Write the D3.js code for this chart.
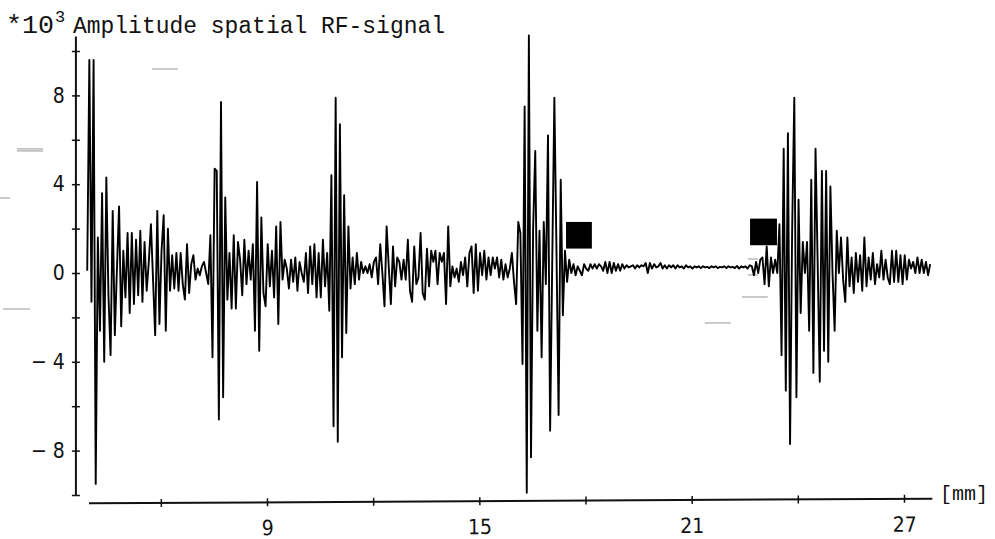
<!DOCTYPE html>
<html>
<head>
<meta charset="utf-8">
<script src="https://cdn.jsdelivr.net/npm/d3@7"></script>
<style>
    html, body { margin: 0; padding: 0; background: #fff; }
    svg { display: block; }
    .tick text {
        font-family: "Liberation Sans Narrow", "DejaVu Sans Condensed", "Liberation Sans", sans-serif;
        font-stretch: condensed;
        font-size: 21px;
        fill: #111;
    }
    .mono { font-family: "Liberation Mono", "DejaVu Sans Mono", monospace; fill: #111; }
</style>
</head>
<body>
<script>
var width = 995;
var height = 539;

// RF signal in units of 10^3, sampled every 0.06 mm from 3.92 mm
var sampleStart = 3.92;
var sampleStep = 0.06;

// 3.92 - 9.86 mm
var rfA = [
    0.1, 9.6, -1.3, 9.6, -9.5, 1.6, -2.6, 3.6, -4.0, 4.3,
    -1.0, -3.7, 2.8, -2.8, 0.2, 3.0, -2.4, 1.0, -1.1, 1.8,
    -1.8, 1.8, -1.4, 1.5, -1.0, 1.9, -1.3, 1.4, -0.8, 0.5,
    2.2, -0.3, -2.8, 2.8, -2.3, 1.0, 2.6, -2.6, 2.0, -0.8,
    0.8, -0.7, 0.9, -0.8, 0.9, -0.5, -1.2, 1.3, -0.9, 0.4,
    0.8, -0.3, 0.2, -0.1, 0.3, 0.5, 0.0, -0.5, 1.7, -3.8,
    4.7, 4.6, -6.6, 7.7, -5.6, 3.4, -1.2, 0.9, -1.6, 1.7,
    -1.6, 1.4, 0.6, -1.0, 1.5, -0.5, 1.0, -0.3, 1.3, -2.6,
    4.1, -3.5, 2.5, -0.9, -1.5, 1.3, -0.6, 1.0, -1.1, 2.1,
    -2.3, 2.3, -0.3, 0.6, 0.2, -0.7, 0.6, -0.4, 0.7, -0.8
];
// 9.92 - 15.86 mm
var rfB = [
    0.5, 0.0, -0.4, 0.9, -0.9, 1.2, -0.5, 1.3, -1.1, 0.9,
    -1.1, 1.5, -0.6, 0.9, -1.7, 4.4, -6.9, 7.9, -7.6, 6.7,
    -3.8, 3.5, -2.7, 2.1, -0.7, 0.7, -0.5, 0.9, -0.3, 0.5,
    0.0, 0.3, 0.0, 0.4, -0.2, 0.5, 0.7, -0.5, 1.3, 0.0,
    -1.5, 2.1, 0.3, -1.4, 1.2, -0.6, 0.7, 0.5, -0.3, 0.6,
    -0.3, 1.5, -0.8, -1.3, 1.2, -0.5, -0.2, 1.8, -0.9, -1.2,
    1.1, -0.6, 1.0, 0.5, 1.0, -0.5, 0.9, 0.5, 0.9, -1.4,
    2.1, -0.6, 0.3, -0.2, 0.2, -0.4, 0.5, -0.1, 0.7, -0.6,
    0.9, 1.2, -0.9, 1.3, -0.8, 0.9, -0.1, 1.0, -0.3, 0.7,
    -0.1, 0.7, 0.2, 0.7, -0.2, 0.6, -0.3, 0.4, -0.2, 0.2
];
// 15.92 - 21.86 mm
var rfC = [
    0.9, -0.4, -1.4, 2.3, 1.8, -4.1, 7.5, -9.9, 10.7, -8.3,
    2.0, 5.5, -2.6, 1.9, -3.8, 2.3, -0.5, 6.2, -7.1, 0.5,
    7.9, 1.0, -6.4, 4.2, -1.9, 1.0, -0.4, 0.6, 0.0, 0.4,
    -0.1, 0.3, 0.1, -0.1, 0.4, 0.2, 0.1, 0.4, 0.2, 0.4,
    0.2, 0.4, 0.3, 0.1, 0.5, 0.0, 0.5, 0.0, 0.45, 0.1,
    0.4, 0.1, 0.4, 0.2, 0.35, 0.25, 0.3, 0.35, 0.2, 0.35,
    0.25, 0.35, 0.3, 0.45, 0.0, 0.45, 0.2, 0.4, 0.25, 0.3,
    0.45, 0.2, 0.35, 0.2, 0.35, 0.25, 0.35, 0.2, 0.35, 0.25,
    0.3, 0.2, 0.35, 0.25, 0.3, 0.2, 0.3, 0.25, 0.3, 0.22,
    0.3, 0.25, 0.28, 0.22, 0.3, 0.25, 0.3, 0.22, 0.28, 0.25
];
// 21.92 - 27.74 mm
var rfD = [
    0.3, 0.22, 0.3, 0.25, 0.28, 0.22, 0.32, 0.2, 0.3, 0.25,
    0.3, 0.2, 0.35, 0.3, -0.1, 0.5, 0.0, 0.6, 0.7, -0.5,
    1.2, -0.6, 0.7, 0.0, 0.6, 0.0, 2.2, -3.7, 5.6, -5.3,
    6.3, -7.7, 2.0, 7.9, -5.6, 3.3, -1.8, 1.4, 0.0, 1.4,
    -2.6, 4.2, -4.5, 5.6, 0.5, -4.9, 4.6, -3.5, 4.6, -4.0,
    3.9, 0.0, -2.6, 1.9, 0.0, 1.6, -0.3, -1.3, 1.6, -0.6,
    0.7, -0.9, 0.9, -0.4, 0.8, -0.8, 1.6, -0.6, 0.7, -0.3,
    0.9, -0.5, 0.4, -0.2, 1.0, -0.3, 0.6, -0.2, -0.5, 1.0,
    -0.4, 1.0, -0.4, 0.8, -0.5, 0.8, -0.3, 0.6, 0.2, 0.5,
    0.0, 0.7, 0.0, 0.6, 0.0, 0.5, -0.1, 0.4
];

// gate markers (mm, amplitude)
var gateFrom = [17.45, 22.65];
var gateTo = [18.18, 23.41];
var gateLow = [1.1, 1.25];
var gateHigh = [2.3, 2.45];

var yTicks = [-10, -8, -6, -4, -2, 0, 2, 4, 6, 8, 10];
var yLabels = [-8, -4, 0, 4, 8];
var xTicks = [6, 9, 12, 15, 18, 21, 24, 27];
var xLabels = [9, 15, 21, 27];

// faint stray strokes on the scan: [mm from, mm to, amplitude]
var scanMarks = [
    [5.75, 6.48, 9.19],
    [1.93, 2.67, 5.59],
    [1.93, 2.67, 5.50],
    [1.45, 1.74, 3.38],
    [1.54, 2.30, -1.62],
    [21.37, 22.11, -2.25],
    [22.42, 23.15, -1.08],
    [22.59, 22.87, 0.63],
    [22.59, 22.87, -0.09]
];

var signal = rfA.concat(rfB, rfC, rfD);

var x = d3.scaleLinear().domain([9, 27]).range([267, 904]);
var y = d3.scaleLinear().domain([-8, 8]).range([450.6, 95.4]);

var svg = d3.select("body")
    .append("svg")
    .attr("width", width)
    .attr("height", height)
;

// stray scan strokes
svg.append("g")
    .selectAll("line")
    .data(scanMarks)
    .enter().append("line")
    .attr("x1", d => x(d[0]))
    .attr("x2", d => x(d[1]))
    .attr("y1", d => y(d[2]))
    .attr("y2", d => y(d[2]))
    .attr("stroke", "#b4b4b4")
    .attr("stroke-width", 1.4)
;

// y axis
var yAxis = svg.append("g")
    .attr("transform", `translate(${x(3.6)}, 0)`)
    .call(d3.axisLeft(y)
        .tickValues(yTicks)
        .tickSize(0)
        .tickPadding(11)
        .tickFormat(d => yLabels.includes(d) ? (d < 0 ? "\u2212 " + (-d) : String(d)) : ""))
;
yAxis.select(".domain").remove();
yAxis.selectAll(".tick line")
    .attr("x1", -4).attr("x2", 4)
    .attr("stroke", "#111").attr("stroke-width", 1.5);
yAxis.append("line")
    .attr("y1", y(-10)).attr("y2", y(10.65))
    .attr("stroke", "#111").attr("stroke-width", 2);

// x axis (slightly skewed, as on the scan)
var xAxis = svg.append("g")
    .attr("transform", "translate(0, 501) rotate(-0.32, 510, 0)")
    .call(d3.axisBottom(x)
        .tickValues(xTicks)
        .tickSize(0)
        .tickPadding(18)
        .tickFormat(d => xLabels.includes(d) ? String(d) : ""))
;
xAxis.select(".domain").remove();
xAxis.selectAll(".tick line")
    .attr("y1", -4).attr("y2", 4)
    .attr("stroke", "#111").attr("stroke-width", 1.5);
xAxis.append("line")
    .attr("x1", x(3.97)).attr("x2", x(27.8))
    .attr("stroke", "#111").attr("stroke-width", 2);

svg.append("text")
    .attr("class", "mono")
    .attr("x", 940).attr("y", 500)
    .attr("font-size", 20)
    .text("[mm]");

// title
svg.append("text")
    .attr("class", "mono")
    .attr("x", 6).attr("y", 33)
    .attr("font-size", 25)
    .attr("textLength", 48)
    .attr("lengthAdjust", "spacingAndGlyphs")
    .text("*10");
svg.append("text")
    .attr("class", "mono")
    .attr("x", 55).attr("y", 22)
    .attr("font-size", 17)
    .text("3");
svg.append("text")
    .attr("class", "mono")
    .attr("x", 73).attr("y", 33)
    .attr("font-size", 23)
    .attr("textLength", 372)
    .attr("lengthAdjust", "spacingAndGlyphs")
    .text("Amplitude spatial RF-signal");

// signal
var rfLine = d3.line()
    .x((d, i) => x(sampleStart + i * sampleStep))
    .y(d => y(d))
;
svg.append("path")
    .datum(signal)
    .attr("d", rfLine)
    .attr("fill", "none")
    .attr("stroke", "#000")
    .attr("stroke-width", 1.9)
    .attr("stroke-linejoin", "round")
;

// gate markers
svg.append("g")
    .selectAll("rect")
    .data(gateFrom)
    .enter().append("rect")
    .attr("x", (d, i) => x(d))
    .attr("y", (d, i) => y(gateHigh[i]))
    .attr("width", (d, i) => x(gateTo[i]) - x(d))
    .attr("height", (d, i) => y(gateLow[i]) - y(gateHigh[i]))
    .attr("fill", "#000")
;
</script>
</body>
</html>
